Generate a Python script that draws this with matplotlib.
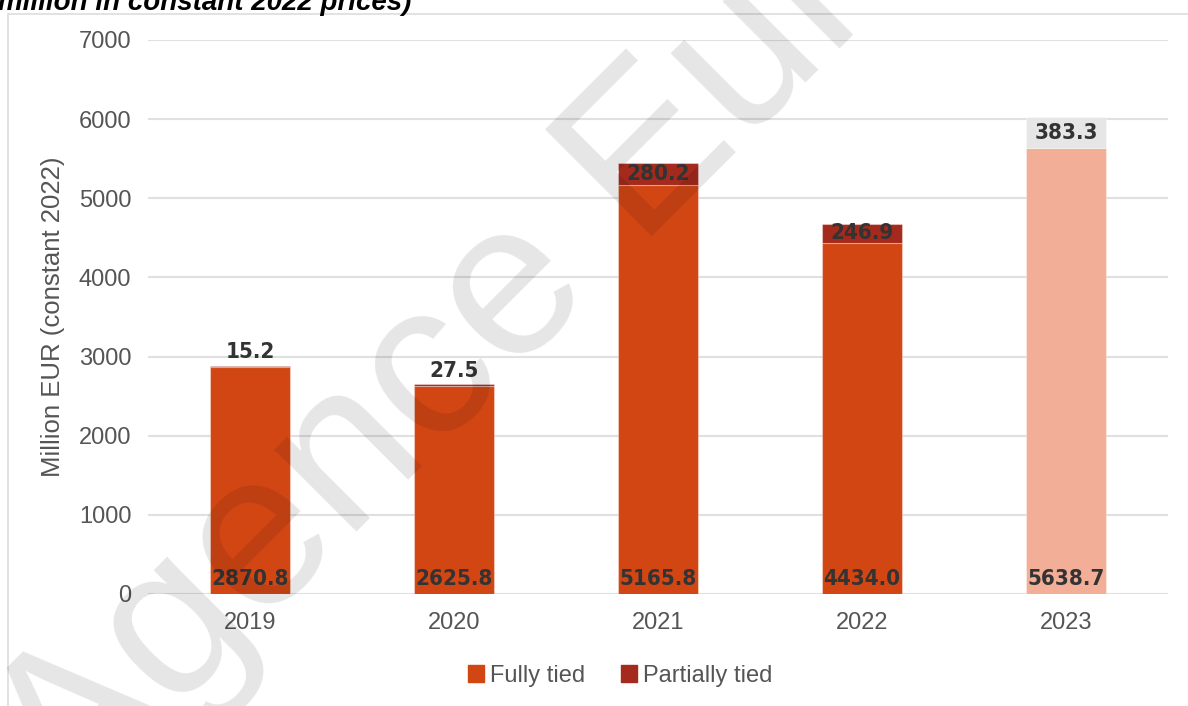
import numpy as np
import matplotlib.pyplot as plt
from matplotlib.patches import Rectangle
from matplotlib.patches import Patch

years = ['2019', '2020', '2021', '2022', '2023']
fully_tied = [2870.8, 2625.8, 5165.8, 4434.0, 5638.7]
partially_tied = [15.2, 27.5, 280.2, 246.9, 383.3]

c_full = '#d24614'
c_part = '#a32a1c'
c_full_fc = '#f2ae96'   # 2023 (projection) colours
c_part_fc = '#e6e6e6'
grey_txt = '#555555'
lbl_txt = '#333333'

W, H = 1188, 706
fig = plt.figure(figsize=(W / 100, H / 100), dpi=100)
ax = fig.add_axes([148 / W, 1 - 594 / H, 1020 / W, 554 / H])

x = np.arange(len(years))
full_cols = [c_full] * 4 + [c_full_fc]
part_cols = [c_part] * 4 + [c_part_fc]
ax.bar(x, fully_tied, width=0.39, color=full_cols, edgecolor=(1, 1, 1, 0.35),
       linewidth=0.8, zorder=3)
ax.bar(x, partially_tied, width=0.39, bottom=fully_tied, color=part_cols,
       edgecolor=(1, 1, 1, 0.35), linewidth=0.8, zorder=3)

lbl_font = dict(family=['DejaVu Sans'], fontstretch='condensed', fontweight='bold',
                fontsize=16, color=lbl_txt, zorder=5)
for i in x:
    ax.text(i, 190, f'{fully_tied[i]:.1f}', ha='center', va='center', **lbl_font)
    p = partially_tied[i]
    if p > 150:
        ax.text(i, fully_tied[i] + p / 2, f'{p:.1f}', ha='center', va='center', **lbl_font)
    else:
        ax.text(i, fully_tied[i] + p + 40, f'{p:.1f}', ha='center', va='bottom', **lbl_font)

ax.set_xlim(-0.5, 4.5)
ax.set_ylim(0, 7000)
ax.set_yticks(np.arange(0, 7001, 1000))
ax.set_xticks(x)
ax.set_xticklabels(years)
ax.grid(axis='y', color='#e0e0e0', linewidth=1.5, zorder=0)
ax.axhline(0, color='#d9d9d9', linewidth=2, zorder=1)
for s in ax.spines.values():
    s.set_visible(False)
ax.tick_params(length=0, labelsize=17, labelcolor=grey_txt, pad=13)
ax.tick_params(axis='y', pad=12)
for t in ax.get_yticklabels() + ax.get_xticklabels():
    t.set_family('Liberation Sans')
ax.set_ylabel('Million EUR (constant 2022)', fontsize=18.5, color=grey_txt,
              family='Liberation Sans', labelpad=10)

handles = [Patch(color=c_full), Patch(color=c_part)]
fig.legend(handles, ['Fully tied', 'Partially tied'], loc='center',
           bbox_to_anchor=(620 / W, 1 - 676 / H), ncol=2, frameon=False,
           prop={'family': 'Liberation Sans', 'size': 17}, labelcolor=grey_txt,
           handlelength=0.7, handleheight=0.7, handletextpad=0.25, columnspacing=1.5)

# outer frame of the chart image
fig.patches.append(Rectangle((8 / W, -0.1), 1.2, 1 - 14 / H + 0.1, transform=fig.transFigure,
                             fill=False, edgecolor='#dddddd', linewidth=1.2))

# cut-off title line
fig.text(-2 / W, 1 - 10 / H, 'million in constant 2022 prices)', fontsize=20,
         fontweight='bold', style='italic', family='Liberation Sans', color='black',
         va='baseline', ha='left')

# watermark
fig.text(70 / W, 1 - 818 / H, 'Agence Europe', fontsize=158, family='Liberation Sans',
         color='black', alpha=0.1, rotation=45, rotation_mode='anchor',
         ha='left', va='baseline', zorder=10)

fig.savefig('out.png', dpi=100)
